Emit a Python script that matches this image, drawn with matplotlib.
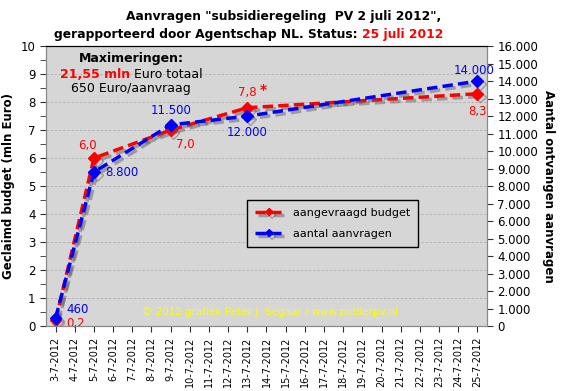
import matplotlib
matplotlib.use("Agg")
import matplotlib.pyplot as plt
import matplotlib.patheffects as pe
from matplotlib.ticker import MultipleLocator, FuncFormatter

# categorieen (datums) en gemeten punten
dates = [f"{d}-7-2012" for d in range(3, 26)]
pt_dates = ["3-7-2012", "5-7-2012", "9-7-2012", "13-7-2012", "25-7-2012"]
budget = [0.2, 6.0, 7.0, 7.8, 8.3]          # mln Euro
aanvragen = [460, 8800, 11500, 12000, 14000]
budget_labels = ["0,2", "6,0", "7,0", "7,8", "8,3"]
aanvr_labels = ["460", "8.800", "11.500", "12.000", "14.000"]

plt.rcParams['font.family'] = ['DejaVu Sans']

fig = plt.figure(figsize=(5.61, 3.91), dpi=100)
ax = fig.add_axes([0.082, 0.166, 0.786, 0.716])
ax2 = ax.twinx()

bg = "#d6d6d6"
ax.set_facecolor(bg)
ax.set_zorder(0)
ax2.set_zorder(1)
ax2.patch.set_visible(False)

xpos = [dates.index(d) for d in pt_dates]
shadow = [pe.SimpleLineShadow(offset=(2, -2), shadow_color="#555555", alpha=0.45, rho=0.3), pe.Normal()]

ax.plot(xpos, budget, color="#ff0000", ls=(0, (3, 1.5)), lw=2.5, marker="D", ms=6,
        label="aangevraagd budget", path_effects=shadow, zorder=3)
ax2.plot(xpos, aanvragen, color="#0000ff", ls=(0, (3, 1.5)), lw=2.5, marker="D", ms=6,
         label="aantal aanvragen", path_effects=shadow, zorder=4)

ax.set_xlim(-0.5, len(dates) - 0.5)
ax.set_ylim(0, 10)
ax2.set_ylim(0, 16000)
ax.set_xticks(range(len(dates)))
ax.set_xticklabels(dates, rotation=90, fontsize=7)
ax.yaxis.set_major_locator(MultipleLocator(1))
ax.yaxis.set_minor_locator(MultipleLocator(0.5))
ax2.yaxis.set_major_locator(MultipleLocator(1000))
ax2.yaxis.set_major_formatter(FuncFormatter(lambda v, p: f"{int(v):,}".replace(",", ".")))
ax.tick_params(axis="y", labelsize=8.5, colors="#333333", which="both", length=4, labelcolor="black")
ax2.tick_params(axis="y", labelsize=8.5, length=4, labelcolor="black", colors="#333333")
ax.tick_params(axis="x", length=4, colors="#333333", labelcolor="black")

ax.grid(axis="y", color="#b0b0b0", ls=(0, (3, 2)), lw=0.6)
for s in ["left", "right", "bottom"]:
    ax.spines[s].set_color("#888888")
    ax2.spines[s].set_color("#888888")
ax.spines["top"].set_color("black")
ax2.spines["top"].set_color("black")

ax.set_ylabel("Geclaimd budget (mln Euro)", fontsize=8.5, fontweight="bold")
ax2.set_ylabel("Aantal ontvangen aanvragen", fontsize=8.5, fontweight="bold", rotation=-90, labelpad=12)

# datalabels (offset in punten)
red_off = [(8, -2, "left"), (-5, 9, "center"), (4, -10, "left"), (0, 11, "center"), (0, -13, "center")]
blue_off = [(8, 6, "left"), (8, 0, "left"), (0, 10, "center"), (0, -12, "center"), (-2, 8, "center")]
for x, y, t, (dx, dy, ha) in zip(xpos, budget, budget_labels, red_off):
    ax.annotate(t, (x, y), xytext=(dx, dy), textcoords="offset points", ha=ha, va="center",
                color="#ff0000", fontsize=8.5, zorder=6)
for x, y, t, (dx, dy, ha) in zip(xpos, aanvragen, aanvr_labels, blue_off):
    ax2.annotate(t, (x, y), xytext=(dx, dy), textcoords="offset points", ha=ha, va="center",
                 color="#0000ff", fontsize=8.5, zorder=6)
ax.annotate("*", (xpos[3], budget[3]), xytext=(9, 13), textcoords="offset points", ha="left",
            va="center", color="#ff0000", fontsize=10, fontweight="bold")

# maximeringen blok
ax.text(0.193, 0.957, "Maximeringen:", transform=ax.transAxes, ha="center", va="center",
        fontsize=9, fontweight="bold")
ax.text(0.19, 0.9, "21,55 mln", transform=ax.transAxes, ha="right", va="center",
        fontsize=9, fontweight="bold", color="#ff0000")
ax.text(0.20, 0.9, "Euro totaal", transform=ax.transAxes, ha="left", va="center", fontsize=9)
ax.text(0.193, 0.848, "650 Euro/aanvraag", transform=ax.transAxes, ha="center", va="center", fontsize=9)

ax.text(0.508, 0.05, "© 2012 grafiek Peter J. Segaar / www.polderpv.nl", transform=ax.transAxes,
        ha="center", va="center", fontsize=7.5, color="#ffff00")

h1, l1 = ax.get_legend_handles_labels()
h2, l2 = ax2.get_legend_handles_labels()
leg = ax2.legend(h1 + h2, l1 + l2, loc="upper left", bbox_to_anchor=(0.456, 0.45), fontsize=8,
                 frameon=True, fancybox=False, edgecolor="black", facecolor=bg, framealpha=1,
                 handlelength=2.6, borderpad=0.7, labelspacing=1.0, markerscale=0.6,
                 borderaxespad=0)
leg.get_frame().set_linewidth(1)

# titel
fig.text(0.505, 0.957, 'Aanvragen "subsidieregeling  PV 2 juli 2012",', ha="center", va="center",
         fontsize=8.8, fontweight="bold")
fig.text(0.638, 0.913, "gerapporteerd door Agentschap NL. Status:", ha="right", va="center",
         fontsize=8.8, fontweight="bold")
fig.text(0.645, 0.913, "25 juli 2012", ha="left", va="center", fontsize=8.8, fontweight="bold",
         color="#ff0000")

fig.savefig("out.png", dpi=100)
